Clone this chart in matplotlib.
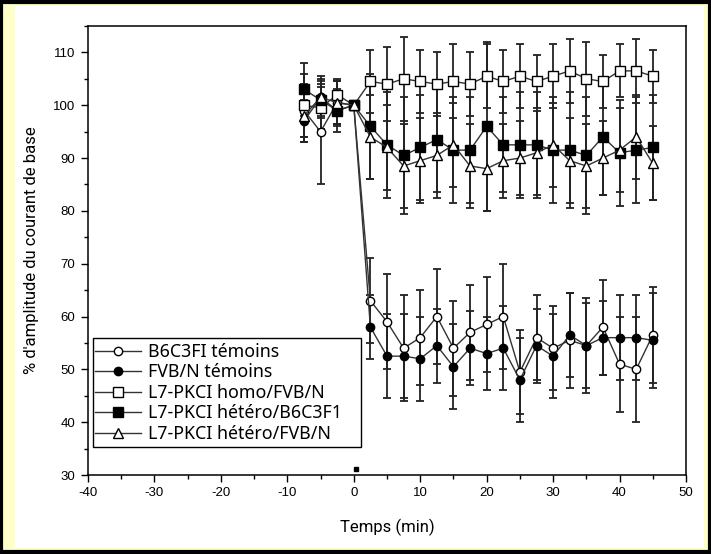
"""Evoked current amplitude (% of baseline) over time for five mouse lines."""
import numpy as np
import matplotlib.pyplot as plt
from matplotlib.patches import Rectangle
from matplotlib.ticker import MultipleLocator

plt.rcParams['axes.unicode_minus'] = False

# time points (min)
temps = np.arange(-7.5, 45.1, 2.5)

labels = ['B6C3FI témoins', 'FVB/N témoins', 'L7-PKCI homo/FVB/N',
          'L7-PKCI hétéro/B6C3F1', 'L7-PKCI hétéro/FVB/N']

b6_temoin = [99, 95, 100.5, 100, 63, 59, 54, 56, 60, 54, 57, 58.5,
             60, 49.5, 56, 54, 55.5, 54.5, 58, 51, 50, 56.5]
b6_temoin_err = [5, 10, 4, 0, 8, 9, 10, 9, 9, 9, 9, 9,
                 10, 8, 8, 8, 9, 9, 9, 9, 10, 9]

fvb_temoin = [97, 101.5, 99, 100, 58, 52.5, 52.5, 52, 54.5, 50.5, 54, 53,
              54, 48, 54.5, 52.5, 56.5, 54.5, 56, 56, 56, 55.5]
fvb_temoin_err = [4, 3, 3, 0, 6, 8, 8, 8, 7, 8, 7, 7,
                  8, 8, 7, 8, 8, 8, 7, 8, 8, 9]

homo_fvb = [100, 99.5, 102, 100, 104.5, 104, 105, 104.5, 104, 104.5, 104, 105.5,
            104.5, 105.5, 104.5, 105.5, 106.5, 105, 104.5, 106.5, 106.5, 105.5]
homo_fvb_err = [6, 4, 3, 0, 6, 7, 8, 6, 6, 7, 6, 6,
                6, 6, 5, 6, 6, 7, 5, 5, 6, 5]

hetero_b6 = [103, 101, 99, 100, 96, 92.5, 90.5, 92, 93.5, 91.5, 91.5, 96,
             92.5, 92.5, 92.5, 91.5, 91.5, 90.5, 94, 91, 91.5, 92]
hetero_b6_err = [5, 3, 4, 0, 10, 10, 11, 10, 10, 10, 10, 16,
                 9, 10, 10, 10, 11, 11, 11, 10, 10, 10]

hetero_fvb = [98, 101.5, 100.5, 100, 94, 92, 88.5, 89.5, 90.5, 92.5, 88.5, 88,
              89.5, 90, 91, 92.5, 89.5, 88.5, 90, 91.5, 94, 89]
hetero_fvb_err = [5, 4, 4, 0, 8, 8, 8, 8, 8, 8, 8, 8,
                  7, 7, 8, 8, 8, 8, 7, 8, 8, 7]

series = [b6_temoin, fvb_temoin, homo_fvb, hetero_b6, hetero_fvb]
errors = [b6_temoin_err, fvb_temoin_err, homo_fvb_err, hetero_b6_err, hetero_fvb_err]
markers = ['o', 'o', 's', 's', '^']
faces = ['white', 'black', 'white', 'black', 'white']
sizes = [6, 6, 7, 7, 7]

# stimulation marker
stim_t, stim_y = 0.3, 31.2


def main():
    fig = plt.figure(figsize=(7.11, 5.54), dpi=100, facecolor='#FFFFC8')
    # white page inside the yellow frame
    fig.patches.append(Rectangle((15/711, 6/554), 689/711, 542/554,
                                 transform=fig.transFigure, facecolor='white',
                                 edgecolor='none', zorder=-2))
    fig.patches.append(Rectangle((0.002, 0.003), 0.996, 0.994,
                                 transform=fig.transFigure, facecolor='none',
                                 edgecolor='black', lw=3, zorder=-1))

    ax = fig.add_axes([88/711, 79/554, 598/711, 449/554])
    ax.set_facecolor('none')

    for y, e, m, fc, ms, lab in zip(series, errors, markers, faces, sizes, labels):
        ax.errorbar(temps, y, yerr=e, fmt='none', ecolor='#222222',
                    elinewidth=1.3, capsize=3, capthick=1.3, zorder=2)
        ax.plot(temps, y, color='#333333', lw=1.0, marker=m, ms=ms,
                mfc=fc, mec='black', mew=1.0, label=lab, zorder=3)

    ax.plot(stim_t, stim_y, marker='s', ms=3.5, color='black', zorder=4)

    ax.set_xlim(-40, 50)
    ax.set_ylim(30, 115)
    ax.xaxis.set_major_locator(MultipleLocator(10))
    ax.xaxis.set_minor_locator(MultipleLocator(5))
    ax.yaxis.set_major_locator(MultipleLocator(10))
    ax.yaxis.set_minor_locator(MultipleLocator(5))
    ax.set_yticks(np.arange(30, 111, 10))
    ax.tick_params(which='major', direction='out', length=5, width=1,
                   labelsize=9.5, pad=4)
    ax.tick_params(which='minor', direction='out', length=3, width=1)
    for lbl in ax.get_xticklabels() + ax.get_yticklabels():
        lbl.set_family('Liberation Sans')
    for s in ax.spines.values():
        s.set_linewidth(1.1)

    ax.set_xlabel('Temps (min)', fontsize=12, family='Roboto', labelpad=14)
    ax.set_ylabel("% d'amplitude du courant de base", fontsize=12,
                  family='Roboto', labelpad=10)

    # legend entries without frame, box drawn separately (wide right margin)
    ax.legend(loc='upper left', bbox_to_anchor=(0.0117, 0.294),
              frameon=False, handlelength=2.6, handletextpad=0.4,
              labelspacing=0.14, borderpad=0, borderaxespad=0,
              prop={'family': 'Noto Sans', 'size': 12.8})
    ax.add_patch(Rectangle((0.0084, 0.0624), 0.448, 0.2426,
                           transform=ax.transAxes, facecolor='white',
                           edgecolor='black', lw=1.0, zorder=4.5))
    ax.get_legend().set_zorder(5)

    fig.savefig('out.png', dpi=100, facecolor=fig.get_facecolor())
    plt.close(fig)


if __name__ == "__main__":
    main()
